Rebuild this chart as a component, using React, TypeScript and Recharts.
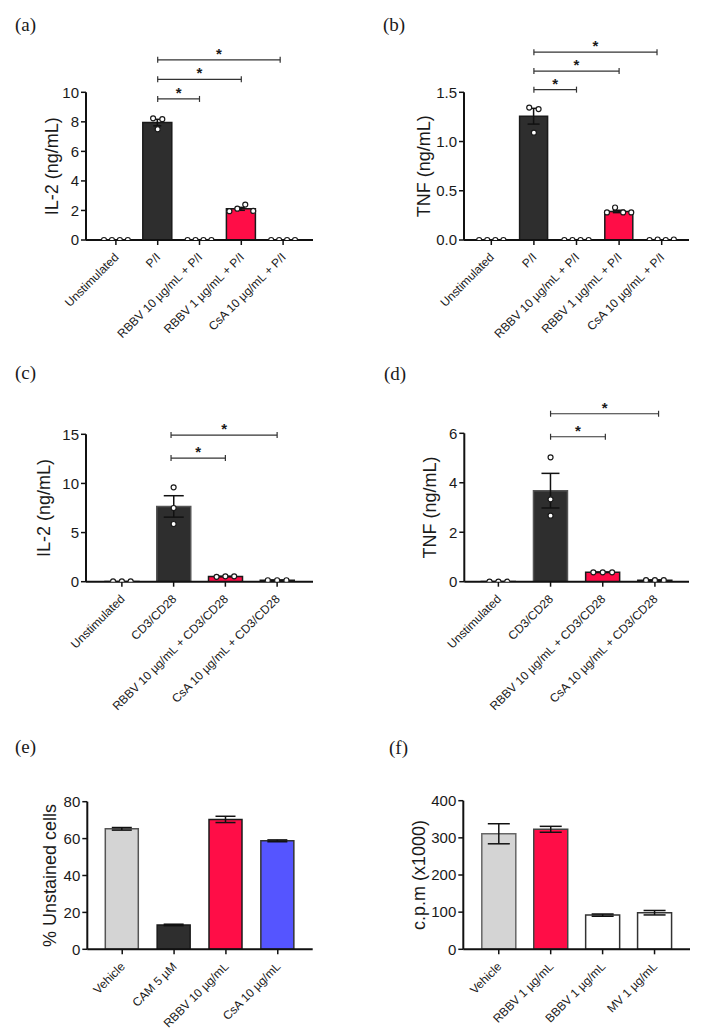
import React from 'react';
import { ComposedChart, Bar, Cell, XAxis, YAxis, ErrorBar, Scatter, ReferenceLine } from 'recharts';

const FONT = '"Liberation Sans", Arial, sans-serif';
const SERIF = '"Liberation Serif", "Times New Roman", serif';
const DARK = '#2e2e2e';
const RED = '#ff0d47';
const BLUE = '#5555ff';
const GRAY = '#d4d4d4';
const WHITE = '#ffffff';
const INK = '#1a1a1a';

// ---------- (a) IL-2, P/I ----------
const catsPI = ['Unstimulated', 'P/I', 'RBBV 10 µg/mL + P/I', 'RBBV 1 µg/mL + P/I', 'CsA 10 µg/mL + P/I'];
const il2PIMean = [0, 7.95, 0, 2.11, 0];
const il2PISem = [0, 0.22, 0, 0.1, 0];
const il2PIPoints = [[0, 0, 0, 0], [8.24, 7.5, 8.18], [0, 0, 0, 0], [1.95, 2.12, 2.4, 1.97], [0, 0, 0, 0]];
const il2PISig = [[1, 2, 9.55], [1, 3, 10.88], [1, 3.93, 12.2]];
const il2PITicks = [0, 2, 4, 6, 8, 10];

// ---------- (b) TNF, P/I ----------
const tnfPIMean = [0, 1.257, 0, 0.29, 0];
const tnfPISem = [0, 0.08, 0, 0.012, 0];
const tnfPIPoints = [[0, 0, 0, 0], [1.345, 1.09, 1.33], [0, 0, 0, 0], [0.28, 0.33, 0.28, 0.28], [0, 0.005, 0, 0.005]];
const tnfPISig = [[1, 2, 1.527], [1, 3, 1.716], [1, 3.89, 1.908]];
const tnfPITicks = [0, 0.5, 1, 1.5];

// ---------- (c) IL-2, CD3/CD28 ----------
const catsCD = ['Unstimulated', 'CD3/CD28', 'RBBV 10 µg/mL + CD3/CD28', 'CsA 10 µg/mL + CD3/CD28'];
const il2CDMean = [0.03, 7.66, 0.53, 0.15];
const il2CDSem = [0, 1.09, 0.02, 0.01];
const il2CDPoints = [[0.03, 0.03, 0.03], [9.6, 7.5, 5.87], [0.5, 0.55, 0.55], [0.15, 0.15, 0.15]];
const il2CDSig = [[0.95, 2, 12.58], [0.95, 3, 14.92]];
const il2CDTicks = [0, 5, 10, 15];

// ---------- (d) TNF, CD3/CD28 ----------
const tnfCDMean = [0.01, 3.68, 0.38, 0.06];
const tnfCDSem = [0, 0.7, 0.01, 0.01];
const tnfCDPoints = [[0, 0, 0], [5.03, 3.33, 2.67], [0.38, 0.38, 0.38], [0.06, 0.06, 0.06]];
const tnfCDSig = [[1, 2.05, 5.86], [1, 3.07, 6.79]];
const tnfCDTicks = [0, 2, 4, 6];

// ---------- (e) viability ----------
const catsViab = ['Vehicle', 'CAM 5 µM', 'RBBV 10 µg/mL', 'CsA 10 µg/mL'];
const viabMean = [65.3, 13.2, 70.4, 58.8];
const viabSem = [0.7, 0.4, 1.7, 0.5];
const viabTicks = [0, 20, 40, 60, 80];

// ---------- (f) proliferation ----------
const catsProlif = ['Vehicle', 'RBBV 1 µg/mL', 'BBBV 1 µg/mL', 'MV 1 µg/mL'];
const prolifMean = [311, 323, 92, 98.5];
const prolifSem = [27, 8, 3, 6];
const prolifTicks = [0, 100, 200, 300, 400];

const RotTick = (props: any) => {
  const { x, y, payload } = props;
  const tx = x + 3.5;
  const ty = y + 11;
  return (
    <text x={tx} y={ty} transform={`rotate(-45 ${tx} ${ty})`} textAnchor="end" fontSize={12} fill={INK} fontFamily={FONT}>
      {payload.value}
    </text>
  );
};

const yLabelContent = (text: string, cx: number) => (props: any) => {
  const vb = props.viewBox || {};
  const cy = vb.y + vb.height / 2;
  return (
    <text x={cx} y={cy} transform={`rotate(-90 ${cx} ${cy})`} textAnchor="middle" dominantBaseline="central" fontSize={18} fill={INK} fontFamily={FONT}>
      {text}
    </text>
  );
};

const dot = (props: any) => {
  const { cx, cy } = props;
  if (cx == null || cy == null) return <g />;
  return <circle cx={cx} cy={cy} r={2.5} fill="#fff" stroke={INK} strokeWidth={1.2} />;
};

const sigShape = (props: any) => {
  const { x1, y1, x2, y2 } = props;
  const mx = (x1 + x2) / 2;
  return (
    <g>
      <line x1={x1} y1={y1} x2={x2} y2={y2} stroke="#333" strokeWidth={1.2} />
      <line x1={x1} y1={y1 - 3} x2={x1} y2={y1 + 3} stroke="#333" strokeWidth={1.2} />
      <line x1={x2} y1={y2 - 3} x2={x2} y2={y2 + 3} stroke="#333" strokeWidth={1.2} />
      <text x={mx} y={y1 - 1} textAnchor="middle" fontSize={15} fontWeight="bold" fill={INK} fontFamily={FONT}>*</text>
    </g>
  );
};

function Panel(p: any) {
  const data = p.cats.map((c: string, i: number) => ({ name: c, v: p.mean[i], e: p.sem[i] }));
  const pts: { x: number; y: number }[] = [];
  (p.points || []).forEach((arr: number[], i: number) => {
    const n = arr.length;
    const s = p.spacing[i];
    arr.forEach((v, k) => pts.push({ x: i + (k - (n - 1) / 2) * s, y: v }));
  });
  const n = p.cats.length;
  const pad = { left: p.pad, right: p.pad };
  return (
    <div style={{ position: 'absolute', left: p.left, top: p.top }}>
      <ComposedChart
        width={p.width}
        height={p.height}
        data={data}
        margin={{ top: p.plotTop, right: p.right, left: 0, bottom: 0 }}
      >
        <XAxis
          xAxisId="c"
          dataKey="name"
          type="category"
          height={p.height - p.plotBottom}
          padding={pad}
          interval={0}
          tick={(tp: any) => <RotTick {...tp} />}
          tickSize={5}
          tickMargin={2}
          axisLine={{ stroke: '#111', strokeWidth: 2 }}
          tickLine={{ stroke: '#111', strokeWidth: 1.5 }}
        />
        <XAxis xAxisId="n" dataKey="x" type="number" domain={[-0.5, n - 0.5]} hide padding={pad} allowDataOverflow />
        <YAxis
          width={p.yWidth}
          type="number"
          domain={p.domain}
          ticks={p.ticks}
          interval={0}
          allowDataOverflow
          tickFormatter={p.fmt}
          tickSize={5}
          tickMargin={2}
          tick={{ fontSize: 15, fill: INK, fontFamily: FONT }}
          axisLine={{ stroke: '#111', strokeWidth: 2 }}
          tickLine={{ stroke: '#111', strokeWidth: 1.5 }}
          label={{ content: yLabelContent(p.yLabel, p.yLabelX) } as any}
        />
        <Bar xAxisId="c" dataKey="v" barSize={p.barSize} isAnimationActive={false} strokeWidth={1.5}>
          {data.map((_d: any, i: number) => (
            <Cell key={i} fill={p.fills[i]} stroke={p.strokes[i]} />
          ))}
          <ErrorBar dataKey="e" width={p.capW} stroke="#111" strokeWidth={1.5} direction="y" />
        </Bar>
        {pts.length > 0 && (
          <Scatter xAxisId="n" data={pts} dataKey="y" isAnimationActive={false} shape={dot} />
        )}
        {(p.sig || []).map((s: number[], i: number) => (
          <ReferenceLine
            key={i}
            xAxisId="n"
            ifOverflow="visible"
            segment={[{ x: s[0], y: s[2] }, { x: s[1], y: s[2] }]}
            shape={sigShape}
          />
        ))}
      </ComposedChart>
    </div>
  );
}

const panelLabels = [
  { t: '(a)', x: 15, y: 31 },
  { t: '(b)', x: 383, y: 31 },
  { t: '(c)', x: 15, y: 379 },
  { t: '(d)', x: 384, y: 380 },
  { t: '(e)', x: 15, y: 753 },
  { t: '(f)', x: 389, y: 754 },
];

export default function App() {
  return (
    <div style={{ position: 'absolute', left: 0, top: 0, width: 712, height: 1036, background: '#fff', overflow: 'hidden' }}>
      <Panel
        left={0} top={0} width={356} height={400} plotTop={92.3} plotBottom={240} yWidth={86} right={43} pad={9}
        cats={catsPI} mean={il2PIMean} sem={il2PISem} points={il2PIPoints} spacing={[0.19, 0.11, 0.19, 0.19, 0.19]}
        sig={il2PISig} domain={[0, 10]} ticks={il2PITicks} yLabel="IL-2 (ng/mL)" yLabelX={52} barSize={29} capW={4}
        fills={[DARK, DARK, DARK, RED, DARK]} strokes={[INK, INK, INK, INK, INK]}
      />
      <Panel
        left={356} top={0} width={356} height={400} plotTop={92.3} plotBottom={240} yWidth={108} right={23} pad={6}
        cats={catsPI} mean={tnfPIMean} sem={tnfPISem} points={tnfPIPoints} spacing={[0.19, 0.11, 0.19, 0.19, 0.19]}
        sig={tnfPISig} domain={[0, 1.5]} ticks={tnfPITicks} fmt={(v: number) => v.toFixed(1)} yLabel="TNF (ng/mL)" yLabelX={68} barSize={28} capW={6}
        fills={[DARK, DARK, DARK, RED, DARK]} strokes={[INK, INK, INK, INK, INK]}
      />
      <Panel
        left={0} top={340} width={356} height={440} plotTop={94.3} plotBottom={241.7} yWidth={86} right={43} pad={10}
        cats={catsCD} mean={il2CDMean} sem={il2CDSem} points={il2CDPoints} spacing={[0.17, 0, 0.17, 0.18]}
        sig={il2CDSig} domain={[0, 15]} ticks={il2CDTicks} yLabel="IL-2 (ng/mL)" yLabelX={44} barSize={34} capW={10}
        fills={[DARK, DARK, RED, DARK]} strokes={[INK, '#555', INK, INK]}
      />
      <Panel
        left={356} top={340} width={356} height={440} plotTop={93.3} plotBottom={241.7} yWidth={108.3} right={23} pad={8}
        cats={catsCD} mean={tnfCDMean} sem={tnfCDSem} points={tnfCDPoints} spacing={[0.17, 0, 0.18, 0.17]}
        sig={tnfCDSig} domain={[0, 6]} ticks={tnfCDTicks} yLabel="TNF (ng/mL)" yLabelX={74} barSize={34} capW={9}
        fills={[DARK, DARK, RED, DARK]} strokes={[INK, '#555', INK, INK]}
      />
      <Panel
        left={0} top={680} width={356} height={356} plotTop={121.7} plotBottom={269.3} yWidth={87.3} right={43.3} pad={9}
        cats={catsViab} mean={viabMean} sem={viabSem} domain={[0, 80]} ticks={viabTicks} yLabel="% Unstained cells" yLabelX={49.5}
        barSize={33} capW={10} fills={[GRAY, DARK, RED, BLUE]} strokes={['#555', INK, INK, '#333']}
      />
      <Panel
        left={356} top={680} width={356} height={356} plotTop={120.7} plotBottom={269.3} yWidth={107.3} right={22} pad={9.5}
        cats={catsProlif} mean={prolifMean} sem={prolifSem} domain={[0, 400]} ticks={prolifTicks} yLabel="c.p.m (x1000)" yLabelX={63}
        barSize={34} capW={11} fills={[GRAY, RED, WHITE, WHITE]} strokes={['#666', '#444', '#333', '#333']}
      />
      <svg width={712} height={1036} style={{ position: 'absolute', left: 0, top: 0, pointerEvents: 'none' }}>
        {panelLabels.map((l) => (
          <text key={l.t} x={l.x} y={l.y} fontSize={19} fontFamily={SERIF} fill={INK}>{l.t}</text>
        ))}
      </svg>
    </div>
  );
}
